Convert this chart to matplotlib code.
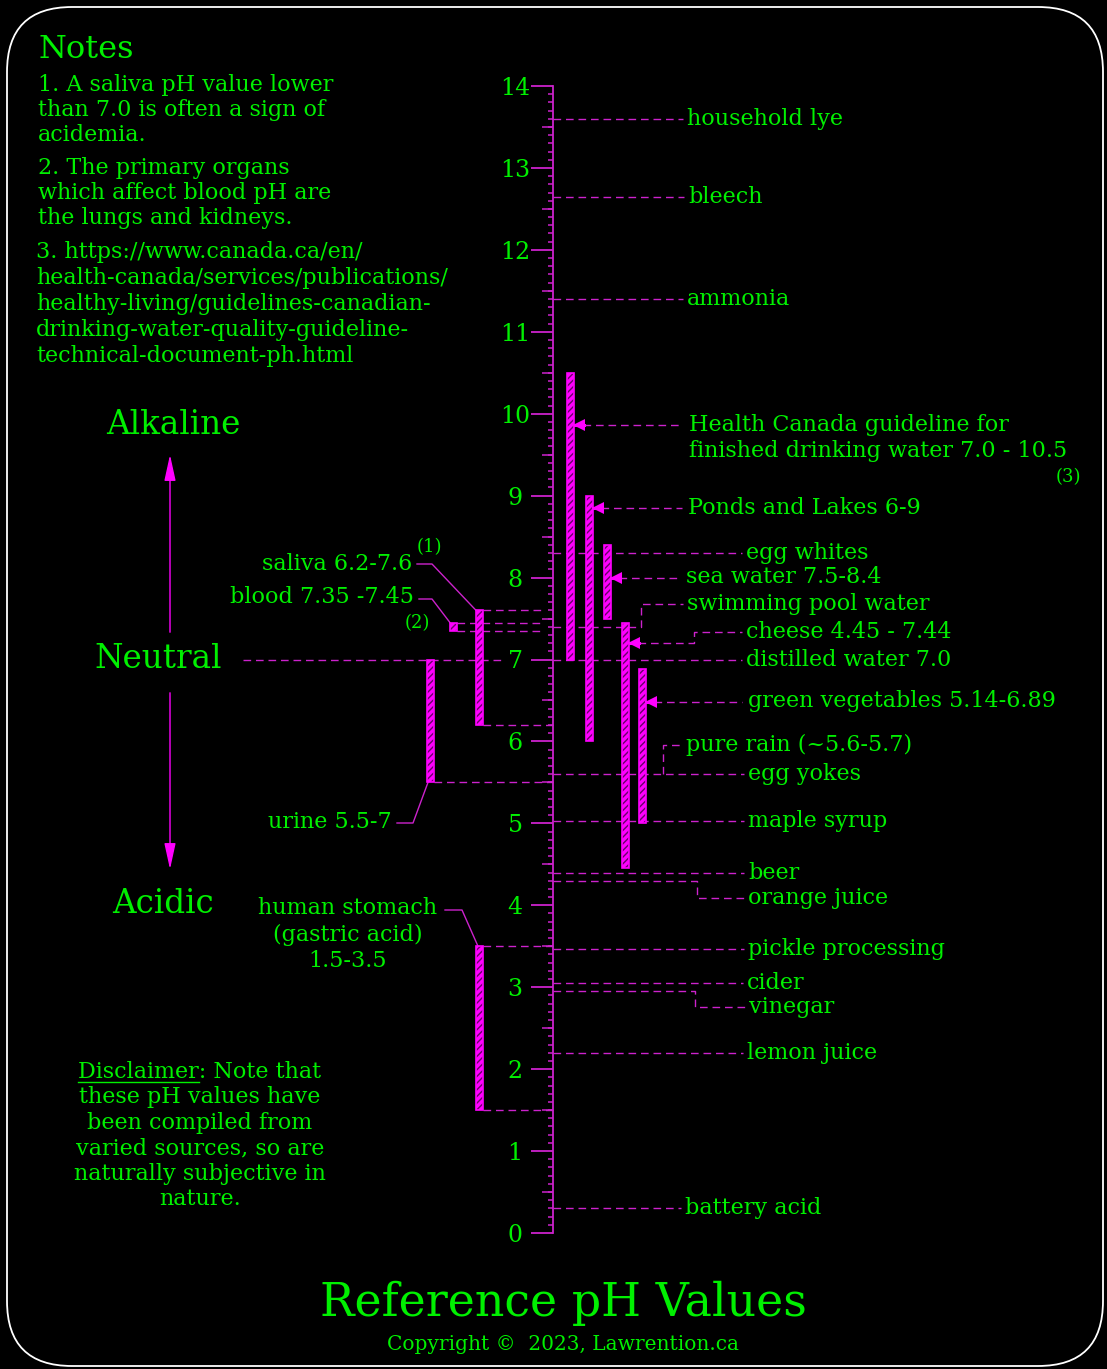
import numpy as np
import matplotlib.pyplot as plt
from matplotlib.patches import Rectangle, FancyBboxPatch

plt.rcParams['font.family'] = ['DejaVu Serif']
plt.rcParams['hatch.linewidth'] = 1.0

W, H = 1107, 1369
GREEN = '#00f000'
MAG = '#cc22cc'
PINK = '#ff00ff'
HATCH = '#6a006a'
FS = 16

# pH scale
ph_ticks = list(range(15))

# plain markers on the right of the scale
right_names = ["household lye", "bleech", "ammonia", "egg whites", "distilled water 7.0",
               "egg yokes", "maple syrup", "beer", "pickle processing", "cider",
               "lemon juice", "battery acid"]
right_ph = [13.6, 12.65, 11.4, 8.3, 7.0, 5.6, 5.03, 4.4, 3.47, 3.05, 2.2, 0.3]
right_lx = [687, 688, 687, 746, 746, 748, 748, 748, 748, 747, 747, 685]

# markers whose label is shifted (line jogs up/down)
jog_names = ["swimming pool water", "orange juice", "vinegar", "pure rain (~5.6-5.7)"]
jog_ph = [7.4, 4.3, 2.95, 5.6]
jog_x = [641, 697, 695, 663]
jog_start = [553, 553, 553, 663]
jog_label_y = [604, 898, 1007, 745]
jog_lx = [687, 748, 749, 686]

# ranges drawn to the right of the scale
rbar_low = [7.0, 6.0, 7.5, 4.45, 5.0]
rbar_high = [10.5, 9.0, 8.4, 7.44, 6.89]
rbar_arrow = [9.86, 8.85, 8.0, 7.2, 6.48]
rbar_x = [570.5, 589, 607, 625.5, 642]

# ranges drawn to the left of the scale
lbar_names = ["saliva", "blood", "urine", "stomach"]
lbar_low = [6.2, 7.35, 5.5, 1.5]
lbar_high = [7.6, 7.45, 7.0, 3.5]
lbar_x = [479, 453, 430, 479]

k = (1233 - 86) / 14.0


def py(y):
    return (1233 - y) / k


fig = plt.figure(figsize=(W / 100, H / 100), dpi=100, facecolor='black')
bg = fig.add_axes([0, 0, 1, 1], zorder=0)
bg.set_xlim(0, W)
bg.set_ylim(H, 0)
bg.axis('off')
bg.set_facecolor('black')

ax = fig.add_axes([0, 0, 1, 1], zorder=1)
ax.patch.set_alpha(0)
ax.set_xlim(0, W)
ax.set_ylim(py(H), py(0))
ax.set_xticks([])
for s in ['top', 'right', 'bottom']:
    ax.spines[s].set_visible(False)
ax.spines['left'].set_position(('data', 553))
ax.spines['left'].set_bounds(0, 14)
ax.spines['left'].set_color(MAG)
ax.spines['left'].set_linewidth(1.3)
ax.set_yticks(ph_ticks)
minor = [t / 10 for t in range(141) if t % 10 != 0]
ax.set_yticks(minor, minor=True)
ax.tick_params(axis='y', which='major', length=15.8, width=1.3, color=MAG,
               labelcolor=GREEN, labelsize=17, pad=11.5)
ax.tick_params(axis='y', which='minor', length=3.6, width=1.1, color=MAG)
for lab in ax.get_yticklabels():
    lab.set_ha('center')
halves = [t + 0.5 for t in range(14)]
ax.hlines(halves, 542, 553, color=MAG, lw=1.1)

dash = dict(color=MAG, lw=1.0, dashes=(5.5, 3.5))

# plain right labels
for name, ph, lx in zip(right_names, right_ph, right_lx):
    ax.plot([553, lx - 4], [ph, ph], **dash)
    ax.text(lx, ph, name, color=GREEN, fontsize=FS, va='center', ha='left')
ax.plot([243, 503], [7.0, 7.0], **dash)

# jogged labels
for name, ph, jx, sx, ly, lx in zip(jog_names, jog_ph, jog_x, jog_start, jog_label_y, jog_lx):
    ax.plot([sx, jx, jx, lx - 4], [ph, ph, py(ly), py(ly)], **dash)
    ax.text(lx, py(ly), name, color=GREEN, fontsize=FS, va='center', ha='left')


def bar(x, lo, hi):
    ax.add_patch(Rectangle((x - 3.5, lo), 7, hi - lo, facecolor=PINK, lw=0, zorder=3))
    ax.add_patch(Rectangle((x - 3.5, lo), 7, hi - lo, facecolor='none', edgecolor=HATCH,
                           hatch='/////', lw=0, zorder=4))
    ax.add_patch(Rectangle((x - 3.5, lo), 7, hi - lo, fill=False, edgecolor=PINK, lw=1.2, zorder=5))


# right ranges with arrows
rbar_text = [("Health Canada guideline for", 689, 425), ("Ponds and Lakes 6-9", 688, 508),
             ("sea water 7.5-8.4", 686, 577), ("cheese 4.45 - 7.44", 746, 632),
             ("green vegetables 5.14-6.89", 748, 701)]
for x, lo, hi, ar, (txt, lx, ly) in zip(rbar_x, rbar_low, rbar_high, rbar_arrow, rbar_text):
    bar(x, lo, hi)
    if ly == 632:
        ax.plot([x + 12, 694, 694, lx - 4], [ar, ar, py(ly), py(ly)], **dash)
    else:
        ax.plot([x + 12, lx - 6], [ar, ar], **dash)
    ax.plot([x + 4, x + 13], [ar, ar], color=PINK, lw=2.2, zorder=6)
    ax.plot(x + 8.5, ar, marker='<', ms=9, color=PINK, mew=0, zorder=6)
    ax.text(lx, py(ly), txt, color=GREEN, fontsize=FS, va='center', ha='left')
ax.text(689, py(451), "finished drinking water 7.0 - 10.5", color=GREEN, fontsize=FS,
        va='center', ha='left')
ax.text(1068, py(477), "(3)", color=GREEN, fontsize=13, va='center', ha='center')

# left ranges
for x, lo, hi, name in zip(lbar_x, lbar_low, lbar_high, lbar_names):
    bar(x, lo, hi)
    if name == 'blood':
        ax.plot([x + 3.5, 543], [hi, hi], **dash)
        ax.plot([x + 3.5, 543], [lo, lo], **dash)
    elif name == 'saliva':
        ax.plot([x + 3.5, 545], [hi, hi], **dash)
        ax.plot([x + 3.5, 553], [lo, lo], **dash)
    elif name == 'urine':
        ax.plot([x + 3.5, 553], [lo, lo], **dash)
    else:
        ax.plot([x + 3.5, 553], [hi, hi], **dash)
        ax.plot([x + 3.5, 553], [lo, lo], **dash)

solid = dict(color=MAG, lw=1.0)
ax.plot([417, 432, 476], [py(564), py(564), 7.6], **solid)
ax.plot([419, 432, 450], [py(599), py(599), 7.45], **solid)
ax.plot([397, 413, 428], [py(823), py(823), 5.5], **solid)
ax.plot([445, 462, 478], [py(910), py(910), 3.5], **solid)

bg.text(412, 564, "saliva 6.2-7.6", color=GREEN, fontsize=FS, va='center', ha='right')
bg.text(429, 547, "(1)", color=GREEN, fontsize=13, va='center', ha='center')
bg.text(414, 597, "blood 7.35 -7.45", color=GREEN, fontsize=FS, va='center', ha='right')
bg.text(417, 623, "(2)", color=GREEN, fontsize=13, va='center', ha='center')
bg.text(392, 822, "urine 5.5-7", color=GREEN, fontsize=FS, va='center', ha='right')
for t, y in zip(["human stomach", "(gastric acid)", "1.5-3.5"], [908, 935, 961]):
    bg.text(348, y, t, color=GREEN, fontsize=FS, va='center', ha='center')

# Alkaline / Neutral / Acidic
bg.text(173, 425, "Alkaline", color=GREEN, fontsize=23.5, va='center', ha='center')
bg.text(158, 659, "Neutral", color=GREEN, fontsize=23.5, va='center', ha='center')
bg.text(163, 904, "Acidic", color=GREEN, fontsize=23.5, va='center', ha='center')
arr = dict(arrowstyle='-|>,head_length=1.6,head_width=0.35', color=PINK, lw=1.0)
bg.annotate("", xy=(170, 452), xytext=(170, 635), arrowprops=arr)
bg.annotate("", xy=(170, 872), xytext=(170, 690), arrowprops=arr)

# Notes
bg.text(38, 50, "Notes", color=GREEN, fontsize=23, va='center', ha='left')
notes = [("1. A saliva pH value lower", 38, 85), ("than 7.0 is often a sign of", 38, 110),
         ("acidemia.", 38, 135), ("2. The primary organs", 38, 168),
         ("which affect blood pH are", 38, 193), ("the lungs and kidneys.", 38, 218),
         ("3. https://www.canada.ca/en/", 36, 252), ("health-canada/services/publications/", 36, 278),
         ("healthy-living/guidelines-canadian-", 36, 304), ("drinking-water-quality-guideline-", 36, 330),
         ("technical-document-ph.html", 36, 356)]
for t, x, y in notes:
    bg.text(x, y, t, color=GREEN, fontsize=FS, va='center', ha='left')

# Disclaimer
disc = ["Disclaimer: Note that", "these pH values have", "been compiled from",
        "varied sources, so are", "naturally subjective in", "nature."]
for i, t in enumerate(disc):
    bg.text(200, 1072 + i * 25.4, t, color=GREEN, fontsize=FS, va='center', ha='center')
r = fig.canvas.get_renderer()
full = bg.text(200, 1072, disc[0], fontsize=FS, va='center', ha='center', alpha=0)
word = bg.text(0, 0, "Disclaimer", fontsize=FS, alpha=0)
bf = full.get_window_extent(r)
bw = word.get_window_extent(r)
inv = bg.transData.inverted()
x0 = inv.transform((bf.x0, 0))[0]
x1 = inv.transform((bf.x0 + bw.width, 0))[0]
bg.plot([x0, x1], [1081.5, 1081.5], color=GREEN, lw=1.0)

# Title
bg.text(563, 1303, "Reference pH Values", color=GREEN, fontsize=33, va='center', ha='center')
bg.text(563, 1345, "Copyright \u00a9  2023, Lawrention.ca", color=GREEN, fontsize=14.5,
        va='center', ha='center')

bg.add_patch(FancyBboxPatch((7, 7), 1096, 1359, boxstyle='round,pad=0,rounding_size=65',
                            facecolor='none', edgecolor='white', lw=1.3))

fig.savefig('out.png', dpi=100, facecolor='black')
